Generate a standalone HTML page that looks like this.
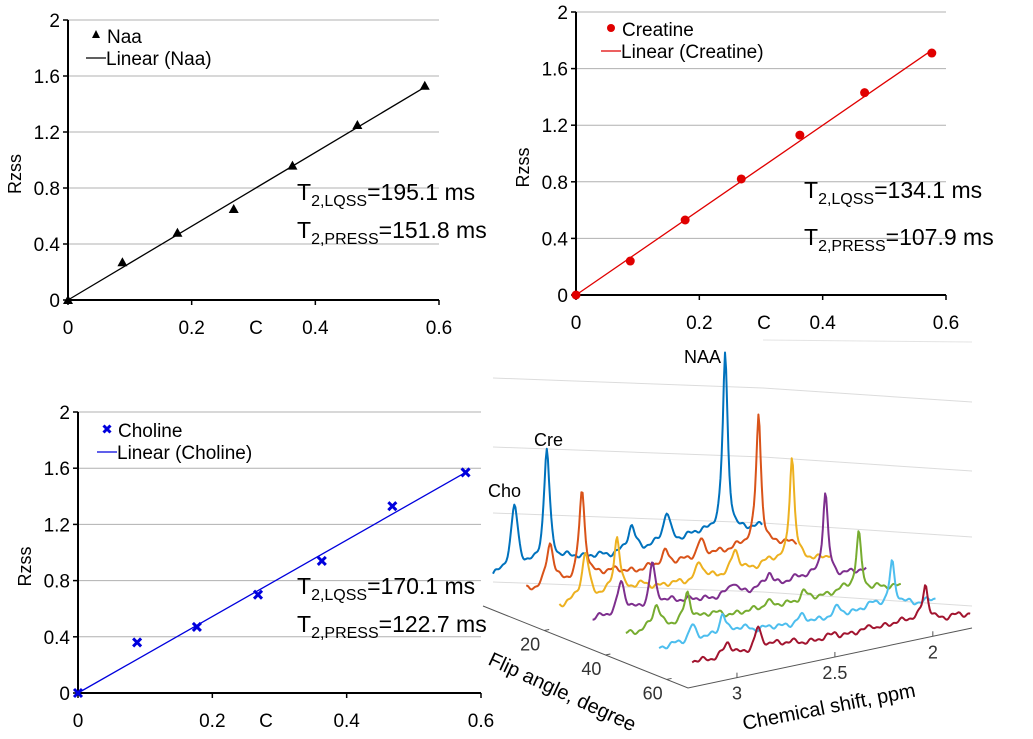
<!DOCTYPE html>
<html><head><meta charset="utf-8">
<style>
html,body{margin:0;padding:0;background:#fff;}
svg{display:block;font-family:"Liberation Sans",sans-serif;}
</style></head>
<body>
<svg id="root" width="1033" height="739" viewBox="0 0 1033 739" xmlns="http://www.w3.org/2000/svg">
</svg>
<script>
// ---- scatter chart data ----
const cValues = [0, 0.088, 0.177, 0.268, 0.363, 0.468, 0.577];
const naaValues = [0, 0.27, 0.48, 0.65, 0.96, 1.25, 1.53];
const creValues = [0, 0.24, 0.53, 0.82, 1.13, 1.43, 1.71];
const choValues = [0, 0.36, 0.47, 0.70, 0.94, 1.33, 1.57];
const naaFit = [0, 1.52];
const creFit = [0, 1.73];
const choFit = [0, 1.57];
const yTicks = [0, 0.4, 0.8, 1.2, 1.6, 2];
const yTickLabels = ["0", "0.4", "0.8", "1.2", "1.6", "2"];
const xTicks = [0, 0.2, 0.4, 0.6];
const xTickLabels = ["0", "0.2", "0.4", "0.6"];
const naaT2 = ["195.1", "151.8"];
const creT2 = ["134.1", "107.9"];
const choT2 = ["170.1", "122.7"];

// ---- 3D spectra data ----
const flipAngles = [5, 15, 25, 35, 45, 55, 65];
const flipTicks = [20, 40, 60];
const shiftTicks = [3, 2.5, 2];
const choHeights = [67, 42, 47, 32, 23, 17, 12];
const creHeights = [117, 87, 57, 45, 28, 23, 20];
const naaHeights = [177, 133, 105, 82, 58, 43, 33];
const traceColors = ["#0072BD", "#D95319", "#EDB120", "#7E2F8E", "#77AC30", "#4DBEEE", "#A2142F"];

const NS = "http://www.w3.org/2000/svg";
const root = document.getElementById("root");
function mk(tag, attrs, parent, text) {
  const e = document.createElementNS(NS, tag);
  for (const k in attrs) e.setAttribute(k, attrs[k]);
  if (text !== undefined) e.textContent = text;
  (parent || root).appendChild(e);
  return e;
}

function scatterChart(cfg) {
  const g = mk("g", {});
  
  
  const xs = v => cfg.x0 + (v / 0.6) * (cfg.x1 - cfg.x0);
  const ys = v => cfg.y0 - (v / 2) * (cfg.y0 - cfg.y2);
  yTicks.forEach((t, i) => {
    if (t > 0) {
      const gl = mk("line", {x1: cfg.x0, x2: cfg.x1, y1: ys(t), y2: ys(t), stroke: "#b0b0b0", "stroke-width": 1}, g);
      
      
    }
    mk("line", {x1: cfg.x0 - 5, x2: cfg.x0, y1: ys(t), y2: ys(t), stroke: "#000", "stroke-width": 1.5}, g);
    const tl = mk("text", {x: cfg.x0 - 8, y: ys(t) + 7, "text-anchor": "end", "font-size": 19}, g, yTickLabels[i]);
    
    
  });
  xTicks.forEach((t, i) => {
    mk("line", {x1: xs(t), x2: xs(t), y1: cfg.y0, y2: cfg.y0 + 5, stroke: "#000", "stroke-width": 1.5}, g);
    const tl = mk("text", {x: xs(t), y: cfg.y0 + 34, "text-anchor": "middle", "font-size": 19}, g, xTickLabels[i]);
    
    
  });
  const ax = mk("path", {d: `M${cfg.x0},${cfg.y2} V${cfg.y0} H${cfg.x1}`, fill: "none", stroke: "#000", "stroke-width": 2}, g);
  
  
  const yt = mk("text", {x: 0, y: 0, "font-size": 18, transform: `translate(${cfg.x0 - 47},${(cfg.y0 + cfg.y2) / 2 + 34}) rotate(-90)`}, g, "Rzss");
  
  
  const xt = mk("text", {x: cfg.x0 + 188, y: cfg.y0 + 34, "font-size": 19, "text-anchor": "middle"}, g, "C");
  
  
  const fl = mk("line", {x1: xs(0), y1: ys(cfg.fit[0]), x2: xs(cValues[cValues.length - 1]), y2: ys(cfg.fit[1]), stroke: cfg.color, "stroke-width": 1.3}, g);
  
  
  cfg.values.forEach((v, i) => {
    const x = xs(cValues[i]), y = ys(v);
    let m;
    if (cfg.marker === "tri") m = mk("polygon", {points: `${x},${y - 5} ${x - 5},${y + 4} ${x + 5},${y + 4}`, fill: cfg.color}, g);
    else if (cfg.marker === "dot") m = mk("circle", {cx: x, cy: y, r: 4.5, fill: cfg.color}, g);
    else m = mk("path", {d: `M${x - 4},${y - 4}L${x + 4},${y + 4}M${x + 4},${y - 4}L${x - 4},${y + 4}`, stroke: cfg.color, "stroke-width": 3}, g);
    
    
  });
  const lg = mk("g", {}, g);
  
  
  const lx = cfg.lx, ly = cfg.ly;
  if (cfg.marker === "tri") mk("polygon", {points: `${lx},${ly - 5} ${lx - 4},${ly + 3} ${lx + 4},${ly + 3}`, fill: cfg.color}, lg);
  else if (cfg.marker === "dot") mk("circle", {cx: lx, cy: ly, r: 4, fill: cfg.color}, lg);
  else mk("path", {d: `M${lx - 3.5},${ly - 3.5}L${lx + 3.5},${ly + 3.5}M${lx + 3.5},${ly - 3.5}L${lx - 3.5},${ly + 3.5}`, stroke: cfg.color, "stroke-width": 3}, lg);
  mk("text", {x: lx + 11, y: ly + 8, "font-size": 19}, lg, cfg.label);
  mk("line", {x1: lx - 10, x2: lx + 10, y1: ly + 23, y2: ly + 23, stroke: cfg.color, "stroke-width": 1.3}, lg);
  mk("text", {x: lx + 10, y: ly + 30, "font-size": 19}, lg, "Linear (" + cfg.label + ")");
  const t1 = mk("text", {x: cfg.tx, y: cfg.ty, "font-size": 23}, g);
  
  
  mk("tspan", {}, t1, "T");
  mk("tspan", {"font-size": 16, dy: 6}, t1, "2,LQSS");
  mk("tspan", {dy: -6}, t1, "=" + cfg.t2[0] + " ms");
  const t2 = mk("text", {x: cfg.tx, y: cfg.ty + cfg.tgap, "font-size": 23}, g);
  
  
  mk("tspan", {}, t2, "T");
  mk("tspan", {"font-size": 16, dy: 6}, t2, "2,PRESS");
  mk("tspan", {dy: -6}, t2, "=" + cfg.t2[1] + " ms");
}

(function () {
  const g = mk("g", {});
  
  
  [378, 447, 513, 582].forEach(y => {
    mk("line", {x1: 493, y1: y, x2: 763, y2: y + 10, stroke: "#dcdcdc", "stroke-width": 1}, g);
    mk("line", {x1: 763, y1: y + 10, x2: 972, y2: y + 24, stroke: "#dcdcdc", "stroke-width": 1}, g);
  });
  mk("line", {x1: 763, y1: 340, x2: 972, y2: 342, stroke: "#e4e4e4", "stroke-width": 1}, g);
  const fa = mk("path", {d: "M483,606 L688,688 L972,628", fill: "none", stroke: "#555", "stroke-width": 1}, g);
  
  
  const fp = a => [483 + (a / 67) * 205, 606 + (a / 67) * 82];
  flipTicks.forEach(a => {
    const p = fp(a);
    mk("line", {x1: p[0], y1: p[1], x2: p[0] + 5, y2: p[1] - 1, stroke: "#555"}, g);
    const t = mk("text", {x: p[0] - 14, y: p[1] + 20, "font-size": 18, fill: "#333", "text-anchor": "middle"}, g, String(a));
    
    
  });
  const sp = s => [688 + ((3.25 - s) / 1.45) * 284, 688 - ((3.25 - s) / 1.45) * 60];
  shiftTicks.forEach(s => {
    const p = sp(s);
    mk("line", {x1: p[0], y1: p[1], x2: p[0], y2: p[1] - 5, stroke: "#555"}, g);
    const t = mk("text", {x: p[0], y: p[1] + 22, "font-size": 18, fill: "#333", "text-anchor": "middle"}, g, String(s));
    
    
  });
  const fl = mk("text", {x: 0, y: 0, "font-size": 20, transform: "translate(487,664) rotate(25)"}, g, "Flip angle, degree");
  
  
  const cl = mk("text", {x: 0, y: 0, "font-size": 20, transform: "translate(744,730) rotate(-11)"}, g, "Chemical shift, ppm");
  
  

  const lor = (t, c, w) => 1 / (1 + ((t - c) / w) * ((t - c) / w));
  flipAngles.forEach((fa, i) => {
    const Ax = 493 + i * 33.2, Ay = 577 + i * 14.2;
    const Ux = 269 + i * 1.5, Uy = -50 + i * 0.3;
    let d = "";
    const N = 240;
    for (let k = 0; k <= N; k++) {
      const t = k / N;
      const wig = 2.2 * Math.sin(t * 97 + i * 1.7) + 1.5 * Math.sin(t * 211 + i) + 1.2 * Math.sin(t * 53 + i * 2.3);
      let h = choHeights[i] * lor(t, 0.08 + i * 0.008, 0.016)
            + creHeights[i] * lor(t, 0.2 + i * 0.006, 0.013)
            + naaHeights[i] * lor(t, 0.863 - i * 0.004, 0.011)
            + (choHeights[i] * 0.35) * lor(t, 0.515, 0.016)
            + (choHeights[i] * 0.45) * lor(t, 0.646, 0.016)
            + 5 * lor(t, 0.3, 0.05) + 6 * lor(t, 0.78, 0.06) + wig * 0.8;
      const x = Ax + t * Ux, y = Ay + t * Uy - h;
      d += (k ? "L" : "M") + x.toFixed(1) + "," + y.toFixed(1);
    }
    const p = mk("path", {d: d, fill: "none", stroke: traceColors[i], "stroke-width": 2, "stroke-linejoin": "round"}, g);
    
    
  });
  [["Cho", 488, 497], ["Cre", 534, 446], ["NAA", 684, 363]].forEach(a => {
    const t = mk("text", {x: a[1], y: a[2], "font-size": 18}, g, a[0]);
    
    
  });
})();

scatterChart({name: "naa-chart", x0: 68, x1: 439, y0: 300, y2: 20, values: naaValues, fit: naaFit, color: "#000", marker: "tri", label: "Naa", lx: 96, ly: 35, tx: 297, ty: 200, tgap: 38, t2: naaT2});
scatterChart({name: "creatine-chart", x0: 576, x1: 946, y0: 295, y2: 12, values: creValues, fit: creFit, color: "#e00000", marker: "dot", label: "Creatine", lx: 611, ly: 28, tx: 804, ty: 198, tgap: 47, t2: creT2});
scatterChart({name: "choline-chart", x0: 78, x1: 481, y0: 693, y2: 412, values: choValues, fit: choFit, color: "#0000dd", marker: "x", label: "Choline", lx: 107, ly: 429, tx: 297, ty: 594, tgap: 38, t2: choT2});
</script>
</body></html>
